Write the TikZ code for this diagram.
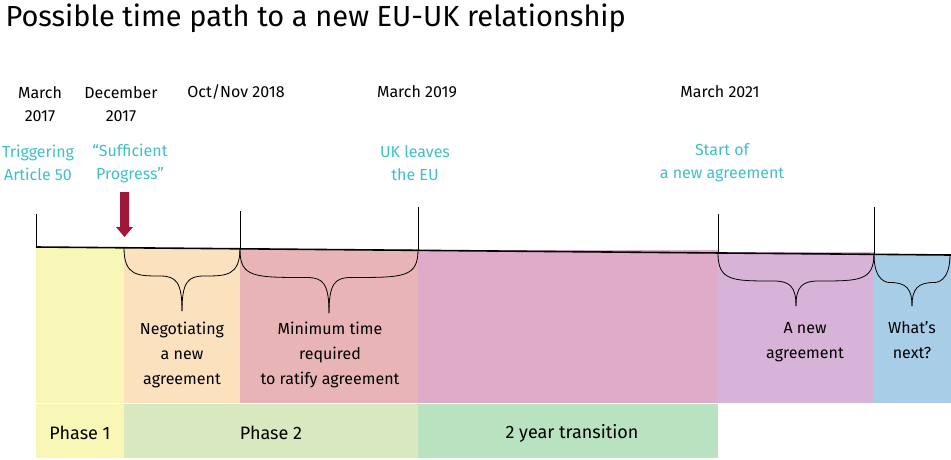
\documentclass[tikz,border=0pt]{standalone}
\usepackage{fontspec}
\setmainfont{Fira Sans}
\usepackage{tikz}
\usetikzlibrary{positioning}
\definecolor{phaseone}{HTML}{F9F7B5}
\definecolor{nego}{HTML}{FCE1BF}
\definecolor{ratify}{HTML}{E9B4B6}
\definecolor{trans}{HTML}{E0AAC9}
\definecolor{newagr}{HTML}{D8B3D8}
\definecolor{next}{HTML}{A8CDE7}
\definecolor{phasetwo}{HTML}{D8E9BF}
\definecolor{transgreen}{HTML}{B9E2C1}
\definecolor{cyanlab}{HTML}{3FC0C8}
\definecolor{arrowred}{HTML}{A0173A}
\tikzset{
  date/.style={align=center, font=\fontsize{16}{23}\selectfont, text=black},
  event/.style={align=center, font=\fontsize{16}{23}\selectfont, text=cyanlab},
  label/.style={align=center, font=\fontsize{16}{25}\selectfont, text=black},
  phase/.style={font=\fontsize{18}{20}\selectfont, text=black}
}
% curly brace from x1 to x2, hanging below the line
\newcommand{\curly}[4]{%
  \draw[thick] (#1,#3) .. controls (#1,#3+28) and (#1+14,#3+28) .. ({(#1+#2)/2-22},#3+28)
    .. controls ({(#1+#2)/2-6},#3+28) and ({(#1+#2)/2},#3+34) .. ({(#1+#2)/2},#4);
  \draw[thick] (#2,#3) .. controls (#2,#3+28) and (#2-14,#3+28) .. ({(#1+#2)/2+22},#3+28)
    .. controls ({(#1+#2)/2+6},#3+28) and ({(#1+#2)/2},#3+34) .. ({(#1+#2)/2},#4);
}
\begin{document}
\begin{tikzpicture}[x=1pt, y=-1pt]
  \useasboundingbox (0,0) rectangle (951,459);
  % title
  \node[anchor=west, font=\fontsize{29}{32}\selectfont] (title) at (2,18) {Possible time path to a new EU-UK relationship};

  % period fills
  \fill[phaseone] (36,248) rectangle (124,403);
  \fill[nego] (124,248) rectangle (240,403);
  \fill[ratify] (240,249) rectangle (418,403);
  \fill[trans] (418,250) rectangle (718,403);
  \fill[newagr] (718,252) rectangle (874,403);
  \fill[next] (874,254) rectangle (951,403);

  % phases
  \fill[phaseone] (36,404) rectangle (124,458);
  \fill[phasetwo] (124,404) rectangle (418,458);
  \fill[transgreen] (418,404) rectangle (718,458);
  \node[phase] (p1) at (80,433) {Phase 1};
  \node[phase] (p2) at (271,433) {Phase 2};
  \node[phase] (p3) at (572,433) {2 year transition};

  % time line and ticks
  \draw[line width=1.6pt] (36,247) -- (951,255);
  \draw[thick] (36,214) -- (36,247.5);
  \draw[thick] (240,211) -- (240,249);
  \draw[thick] (418,207) -- (418,250.5);
  \draw[thick] (718,214) -- (718,253);
  \draw[thick] (874,207) -- (874,254.5);

  % braces
  \curly{124}{240}{248}{311}
  \curly{240}{418}{249.5}{313}
  \curly{718}{874}{253}{306}
  \curly{874}{950}{254.5}{306}

  % arrow for sufficient progress
  \fill[arrowred] (120,192) rectangle (129,227) (116,227) -- (133,227) -- (124.5,237) -- cycle;

  % dates
  \node[date] (d1) at (40,104) {March\\2017};
  \node[date] (d2) at (121,104) {December\\2017};
  \node[date] (d3) at (236,92) {Oct/Nov 2018};
  \node[date] (d4) at (417,92) {March 2019};
  \node[date] (d5) at (720,92) {March 2021};

  % events
  \node[event] (e1) at (38,163) {Triggering\\Article 50};
  \node[event] (e2) at (130,163) {“Sufficient\\Progress”};
  \node[event] (e3) at (415,163) {UK leaves\\the EU};
  \node[event] (e4) at (722,163) {Start of\\a new agreement};

  % period labels
  \node[label] (l1) at (182,355) {Negotiating\\a new\\agreement};
  \node[label] (l2) at (330,355) {Minimum time\\required\\to ratify agreement};
  \node[label] (l3) at (805,342) {A new\\agreement};
  \node[label] (l4) at (912,340) {What’s\\next?};
\end{tikzpicture}
\end{document}
